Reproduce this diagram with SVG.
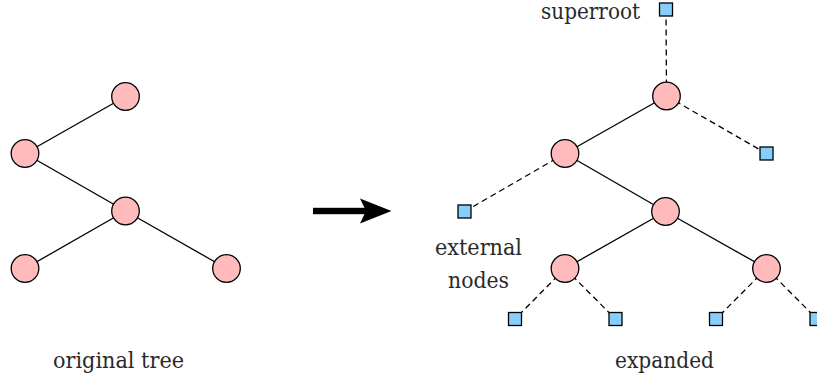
<svg xmlns="http://www.w3.org/2000/svg" width="817" height="381" viewBox="0 0 817 381">
<defs>
<style>
.n{fill:#ffbbbb;stroke:#000;stroke-width:1.3}
.x{fill:#87cefa;stroke:#000;stroke-width:1.3}
.e{stroke:#000;stroke-width:1.3;fill:none}
.d{stroke:#000;stroke-width:1.3;fill:none;stroke-dasharray:6 4}
.t{font-size:23px;fill:#2a2a2a}
</style>
</defs>
<g id="connectors">
<line class="e" x1="125.5" y1="96.5" x2="25" y2="153.5"/>
<line class="e" x1="25" y1="153.5" x2="125.5" y2="211"/>
<line class="e" x1="125.5" y1="211" x2="25" y2="268.5"/>
<line class="e" x1="125.5" y1="211" x2="226.5" y2="268.5"/>
<line class="d" x1="666" y1="9.5" x2="666.5" y2="96"/>
<line class="e" x1="666.5" y1="96" x2="565" y2="153.5"/>
<line class="d" x1="666.5" y1="96" x2="766.5" y2="153.5"/>
<line class="e" x1="565" y1="153.5" x2="665.5" y2="211.5"/>
<line class="d" x1="565" y1="153.5" x2="464.5" y2="211.5"/>
<line class="e" x1="665.5" y1="211.5" x2="565" y2="268.5"/>
<line class="e" x1="665.5" y1="211.5" x2="766.5" y2="268.5"/>
<line class="d" x1="565" y1="268.5" x2="515" y2="319"/>
<line class="d" x1="565" y1="268.5" x2="615.5" y2="319"/>
<line class="d" x1="766.5" y1="268.5" x2="716" y2="319"/>
<line class="d" x1="766.5" y1="268.5" x2="817" y2="319"/>
</g>
<g id="arrow">
<rect x="313" y="207.8" width="54" height="6.4" fill="#000"/>
<polygon points="391.5,211 360,198.5 366,211 360,223.5" fill="#000"/>
</g>
<g id="orig-a"><circle class="n" cx="125.5" cy="96.5" r="13.8"/></g>
<g id="orig-b"><circle class="n" cx="25" cy="153.5" r="13.8"/></g>
<g id="orig-c"><circle class="n" cx="125.5" cy="211" r="13.8"/></g>
<g id="orig-d"><circle class="n" cx="25" cy="268.5" r="13.8"/></g>
<g id="orig-e"><circle class="n" cx="226.5" cy="268.5" r="13.8"/></g>
<g id="exp-a"><circle class="n" cx="666.5" cy="96" r="13.8"/></g>
<g id="exp-b"><circle class="n" cx="565" cy="153.5" r="13.8"/></g>
<g id="exp-c"><circle class="n" cx="665.5" cy="211.5" r="13.8"/></g>
<g id="exp-d"><circle class="n" cx="565" cy="268.5" r="13.8"/></g>
<g id="exp-e"><circle class="n" cx="766.5" cy="268.5" r="13.8"/></g>
<g id="superroot"><rect class="x" x="659.5" y="3" width="13" height="13"/></g>
<g id="ext-1"><rect class="x" x="760" y="147" width="13" height="13"/></g>
<g id="ext-2"><rect class="x" x="458" y="205" width="13" height="13"/></g>
<g id="ext-3"><rect class="x" x="508.5" y="312.5" width="13" height="13"/></g>
<g id="ext-4"><rect class="x" x="609" y="312.5" width="13" height="13"/></g>
<g id="ext-5"><rect class="x" x="709.5" y="312.5" width="13" height="13"/></g>
<g id="ext-6"><rect class="x" x="810" y="312.5" width="13" height="13"/></g>
<g id="labels" font-family="'DejaVu Serif', serif">
<text class="t" x="53" y="368" textLength="131" lengthAdjust="spacingAndGlyphs">original tree</text>
<text class="t" x="541" y="19" textLength="99" lengthAdjust="spacingAndGlyphs">superroot</text>
<text class="t" x="435" y="255" textLength="87" lengthAdjust="spacingAndGlyphs">external</text>
<text class="t" x="448" y="287.5" textLength="61" lengthAdjust="spacingAndGlyphs">nodes</text>
<text class="t" x="615" y="368" textLength="99" lengthAdjust="spacingAndGlyphs">expanded</text>
</g>
</svg>
